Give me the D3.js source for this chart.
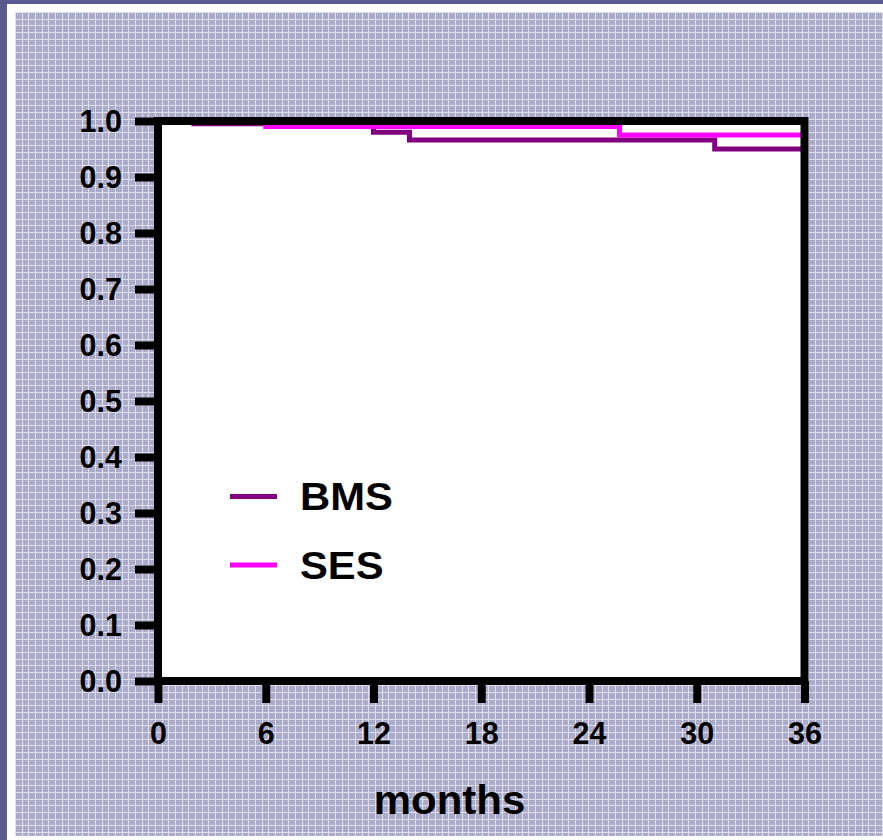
<!DOCTYPE html>
<html>
<head>
<meta charset="utf-8">
<script src="https://cdn.jsdelivr.net/npm/d3@7"></script>
<style>
  html, body { margin: 0; padding: 0; background: #5a5a8e; }
  svg { display: block; }
  text { font-family: "Liberation Sans", Arial, Helvetica, sans-serif; font-weight: bold; fill: #000; }
</style>
</head>
<body>
<svg id="chart" width="883" height="840"></svg>
<script>
// Kaplan-Meier step data: [month, cumulative event-free survival]
const bmsMonths = [0, 2, 12, 14, 31, 36];
const bmsSurvival = [1.0, 0.995, 0.98, 0.966, 0.95, 0.95];
const sesMonths = [0, 6, 25.7, 36];
const sesSurvival = [1.0, 0.99, 0.975, 0.975];

const seriesNames = ["BMS", "SES"];
const seriesColors = ["#800080", "#ff00ff"];

const xTicks = [0, 6, 12, 18, 24, 30, 36];
const yTicks = [0.0, 0.1, 0.2, 0.3, 0.4, 0.5, 0.6, 0.7, 0.8, 0.9, 1.0];
const xTitle = "months";

const svg = d3.select("#chart");

// Page backdrop: dark border, white inset, then a fine lavender grid texture
const defs = svg.append("defs");
const pat = defs.append("pattern")
  .attr("id", "grid")
  .attr("patternUnits", "userSpaceOnUse")
  .attr("x", 15).attr("y", 12)
  .attr("width", 20).attr("height", 20);
pat.append("rect").attr("width", 20).attr("height", 20).attr("fill", "#a7a7c7");
// speckle inside the cells
for (let i = 0; i < 20; i += 2) {
  for (let j = (i / 2) % 2; j < 20; j += 2) {
    pat.append("rect").attr("x", i).attr("y", j).attr("width", 1).attr("height", 1)
      .attr("fill", "#b6b6d1");
  }
}
[0, 7, 13].forEach(p => {
  pat.append("rect").attr("x", p).attr("y", 0).attr("width", 1).attr("height", 20).attr("fill", "#dedeec");
  pat.append("rect").attr("x", 0).attr("y", p).attr("width", 20).attr("height", 1).attr("fill", "#dedeec");
});

svg.append("rect").attr("width", 883).attr("height", 840).attr("fill", "#5a5a8e");
svg.append("rect").attr("x", 7).attr("y", 4).attr("width", 876).attr("height", 836).attr("fill", "#ffffff");
svg.append("rect").attr("x", 15).attr("y", 12).attr("width", 868).attr("height", 824).attr("fill", "url(#grid)");

// Scales
const x = d3.scaleLinear().domain([0, 36]).range([158, 804.5]);
const y = d3.scaleLinear().domain([0, 1]).range([681, 121]);

// Plot area
svg.append("rect")
  .attr("x", x(0)).attr("y", y(1))
  .attr("width", x(36) - x(0)).attr("height", y(0) - y(1))
  .attr("fill", "#ffffff");

// Survival curves
const line = d3.line()
  .x(d => x(d[0]))
  .y(d => y(d[1]))
  .curve(d3.curveStepAfter);

const series = [
  d3.zip(bmsMonths, bmsSurvival),
  d3.zip(sesMonths, sesSurvival)
];
series.forEach((pts, i) => {
  svg.append("path")
    .attr("d", line(pts))
    .attr("fill", "none")
    .attr("stroke", seriesColors[i])
    .attr("stroke-width", 5)
    .attr("stroke-linejoin", "miter");
});

// Frame around the plot
svg.append("rect")
  .attr("x", x(0)).attr("y", y(1))
  .attr("width", x(36) - x(0)).attr("height", y(0) - y(1))
  .attr("fill", "none")
  .attr("stroke", "#000")
  .attr("stroke-width", 8);

// Axes
const xAxis = d3.axisBottom(x)
  .tickValues(xTicks)
  .tickSize(22)
  .tickSizeOuter(0)
  .tickPadding(19)
  .tickFormat(d3.format("d"));
const gx = svg.append("g").attr("transform", `translate(0,${y(0)})`).call(xAxis);
gx.select(".domain").remove();
gx.selectAll(".tick line").attr("stroke", "#000").attr("stroke-width", 8);
gx.selectAll(".tick text").attr("font-size", 30.5).attr("fill", "#000");

const yAxis = d3.axisLeft(y)
  .tickValues(yTicks)
  .tickSize(23)
  .tickSizeOuter(0)
  .tickPadding(13)
  .tickFormat(d3.format(".1f"));
const gy = svg.append("g").attr("transform", `translate(${x(0)},0)`).call(yAxis);
gy.select(".domain").remove();
gy.selectAll(".tick line").attr("stroke", "#000").attr("stroke-width", 8);
gy.selectAll(".tick text").attr("font-size", 30.5).attr("fill", "#000").attr("dy", "0.36em");

svg.selectAll(".tick text")
  .style("font-family", "'Liberation Sans', Arial, sans-serif")
  .style("font-weight", "bold");

// Axis title (slightly widened lettering)
svg.append("text")
  .attr("transform", "translate(449.5,814) scale(1.05,1)")
  .attr("text-anchor", "middle")
  .attr("font-size", 40)
  .text(xTitle);

// Legend
const legendY = [496.5, 565];
seriesNames.forEach((name, i) => {
  svg.append("line")
    .attr("x1", 230).attr("x2", 277)
    .attr("y1", legendY[i]).attr("y2", legendY[i])
    .attr("stroke", seriesColors[i])
    .attr("stroke-width", 5);
  svg.append("text")
    .attr("transform", `translate(300,${legendY[i] + 13.5}) scale(1.1,1)`)
    .attr("font-size", 38)
    .text(name);
});
</script>
</body>
</html>
